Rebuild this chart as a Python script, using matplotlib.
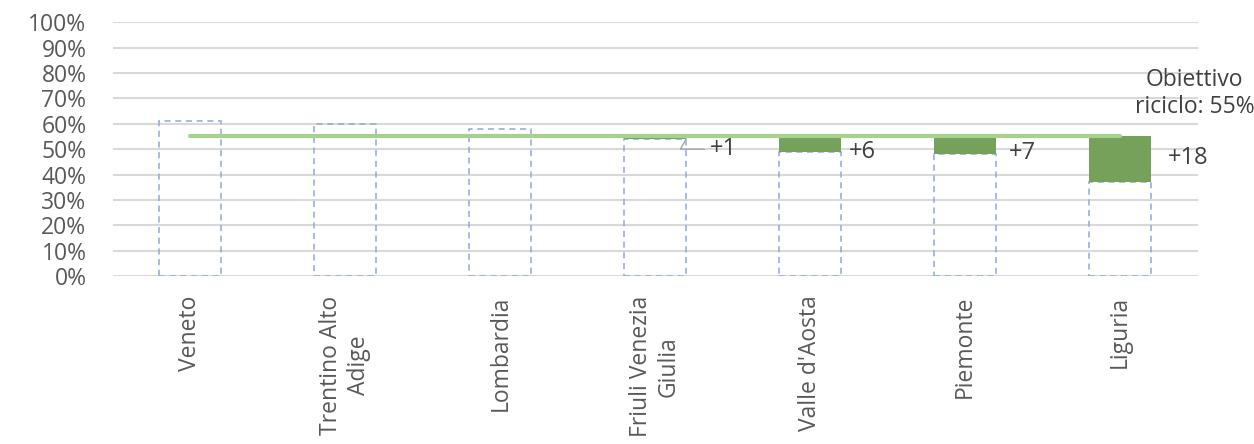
import matplotlib.pyplot as plt
import numpy as np

# Dati
regioni = ["Veneto", "Trentino Alto\nAdige", "Lombardia", "Friuli Venezia\nGiulia",
           "Valle d'Aosta", "Piemonte", "Liguria"]
riciclo = [61, 60, 58, 54, 49, 48, 37]
obiettivo = 55
etichette_gap = ["", "", "", "+1", "+6", "+7", "+18"]
pos_etichette = [0, 0, 0, 50, 49, 48.5, 46.5]

plt.rcParams['font.family'] = ['Open Sans', 'DejaVu Sans']
grigio = '#595959'

fig = plt.figure(figsize=(12.54, 4.44), dpi=100)
ax = fig.add_axes([0.090, 0.378, 0.865, 0.572])

x = np.arange(len(regioni))

# griglia
ax.set_axisbelow(True)
ax.yaxis.grid(True, color='#D9D9D9', linewidth=1.5)

# barre tratteggiate (valore attuale)
ax.bar(x, riciclo, width=0.4, fill=False, edgecolor='#8FAADC',
       linestyle=(0, (4, 3)), linewidth=1.1, zorder=2)

# mancante all'obiettivo
gap = [max(obiettivo - v, 0) for v in riciclo]
ax.bar(x, gap, width=0.4, bottom=riciclo, color='#76A15B', zorder=3)

# linea obiettivo
ax.plot(x, [obiettivo] * len(x), color='#A9D18E', linewidth=3,
        solid_capstyle='round', zorder=4)

# etichette
offs = [0, 0, 0, 0.355, 0.34, 0.37, 0.44]
for i in range(len(x)):
    if etichette_gap[i] == "":
        continue
    if etichette_gap[i] == "+1":
        ax.annotate(etichette_gap[i], xy=(x[i] + 0.2, riciclo[i]),
                    xytext=(x[i] + 0.355, pos_etichette[i]),
                    fontsize=17, color='#404040', va='center', ha='left',
                    arrowprops=dict(arrowstyle='-', color='#A6A6A6', lw=1,
                                    shrinkA=2, shrinkB=0,
                                    connectionstyle='angle,angleA=0,angleB=60'))
    else:
        ax.text(x[i] + offs[i], pos_etichette[i], etichette_gap[i], fontsize=17,
                color='#404040', va='center', ha='center')

ax.text(6.48, 72, "Obiettivo\nriciclo: 55%", fontsize=16.5, color='#404040',
        ha='center', va='center', multialignment='center', linespacing=1.2)

ax.set_xlim(-0.5, 6.5)
ax.set_ylim(0, 100)
ax.set_yticks(np.arange(0, 101, 10))
ax.set_yticklabels([str(v) + "%" for v in range(0, 101, 10)])
ax.set_xticks(x)
ax.set_xticklabels(regioni, rotation=90, ha='center', va='top',
                   multialignment='center')
ax.tick_params(axis='both', length=0, labelsize=16.5, labelcolor=grigio)
ax.tick_params(axis='x', pad=14)
ax.tick_params(axis='y', pad=19)
for s in ax.spines.values():
    s.set_visible(False)

fig.savefig("out.png", dpi=100)
